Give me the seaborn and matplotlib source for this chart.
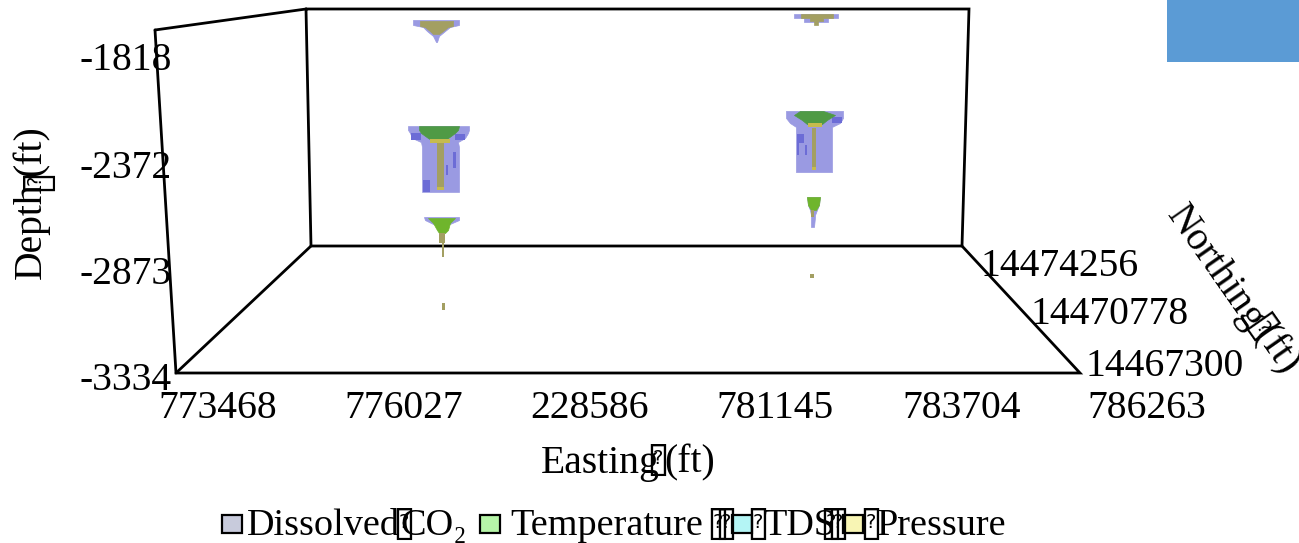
import matplotlib
matplotlib.use("Agg")
import matplotlib.pyplot as plt
from matplotlib.patches import Rectangle
import seaborn as sns

# Axis tick labels as printed on the chart
easting_ticks = ["773468", "776027", "228586", "781145", "783704", "786263"]
northing_ticks = ["14474256", "14470778", "14467300"]
depth_ticks = ["-1818", "-2372", "-2873", "-3334"]

# Back wall range of the box
easting_range = (773468, 786263)
depth_range = (-3334, -1690)

BLUE = "#9a9ae2"
DARK = "#6c6cd6"
GREEN = "#4f9a45"
LIME = "#6fb52c"
OLIVE = "#a39f62"
YELLOW = "#c6bb4e"

# Each shape: depth, west edge, east edge (ft)
# well 1, upper zone
w1a_depth = [-1766, -1801, -1815, -1843, -1877, -1919]
w1a_west = [775473, 775473, 775669, 775748, 775866, 775925]
w1a_east = [776377, 776377, 776200, 776102, 775984, 775945]
w1a_core_depth = [-1773, -1808, -1815, -1843, -1863]
w1a_core_west = [775610, 775610, 775708, 775806, 775866]
w1a_core_east = [776259, 776259, 776161, 776062, 775984]

# well 1, middle zone
w1b_depth = [-2502, -2529, -2550, -2585, -2613, -2647, -2959]
w1b_west = [775374, 775374, 775414, 775454, 775630, 775650, 775650]
w1b_east = [776573, 776573, 776554, 776495, 776357, 776377, 776377]
w1b_core_depth = [-2502, -2529, -2550, -2585, -2613]
w1b_core_west = [775591, 775591, 775630, 775768, 775905]
w1b_core_east = [776377, 776357, 776298, 776161, 776062]

# well 1, lower zone
w1c_depth = [-3133, -3154, -3181]
w1c_west = [775689, 775708, 775866]
w1c_east = [776377, 776377, 776200]
w1c_core_depth = [-3140, -3174, -3223, -3244]
w1c_core_west = [775768, 775866, 775944, 775984]
w1c_core_east = [776298, 776200, 776161, 776102]

# well 2, upper zone
w2a_depth = [-1725, -1752, -1752, -1780]
w2a_west = [782961, 782961, 783157, 783157]
w2a_east = [783826, 783826, 783629, 783629]
w2a_core_depth = [-1725, -1752, -1752, -1773, -1773, -1801]
w2a_core_west = [783098, 783098, 783275, 783275, 783354, 783354]
w2a_core_east = [783727, 783727, 783531, 783531, 783433, 783433]

# well 2, middle zone
w2b_depth = [-2397, -2446, -2481, -2508, -2522, -2821]
w2b_west = [782804, 782804, 782882, 783000, 783000, 783000]
w2b_east = [783924, 783924, 783865, 783708, 783708, 783708]
w2b_core_depth = [-2397, -2425, -2460, -2488]
w2b_core_west = [783079, 782961, 783118, 783216]
w2b_core_east = [783531, 783767, 783609, 783511]

# well 2, lower zone
w2c_depth = [-2994, -3050, -3084, -3119, -3133, -3202]
w2c_west = [783216, 783236, 783275, 783295, 783295, 783295]
w2c_east = [783472, 783452, 783413, 783374, 783374, 783354]
w2c_core_depth = [-2994, -3050, -3084]
w2c_core_west = [783216, 783236, 783295]
w2c_core_east = [783472, 783452, 783393]

# Blocks: west, east, top depth, bottom depth, colour
stem_blocks = [
    (775944, 776082, -2619, -2946, OLIVE),
    (775807, 776200, -2592, -2620, YELLOW),
    (775944, 776082, -2925, -2946, YELLOW),
    (775984, 776102, -3244, -3313, OLIVE),
    (776043, 776082, -3313, -3410, OLIVE),
    (776043, 776102, -3729, -3778, OLIVE),
    (783315, 783393, -2515, -2807, OLIVE),
    (783236, 783511, -2481, -2508, YELLOW),
    (783315, 783393, -2786, -2807, YELLOW),
    (783295, 783354, -3084, -3133, OLIVE),
    (783275, 783354, -3528, -3556, OLIVE),
]
dark_blocks = [
    (776260, 776320, -2682, -2793, DARK),
    (776120, 776161, -2772, -2842, DARK),
    (775670, 775808, -2876, -2959, DARK),
    (775434, 775630, -2550, -2600, DARK),
    (776298, 776495, -2560, -2600, DARK),
    (783020, 783157, -2557, -2619, DARK),
    (783020, 783059, -2619, -2703, DARK),
    (783177, 783216, -2633, -2703, DARK),
    (783708, 783904, -2439, -2481, DARK),
]

sns.set_theme(style="white")
plt.rcParams["font.family"] = ["Liberation Serif", "DejaVu Sans"]
plt.rcParams["text.color"] = "black"

W, H = 1299, 543
fig = plt.figure(figsize=(W / 100, H / 100), dpi=100)

# Page layer in pixels for the box frame and the labels
page = fig.add_axes([0, 0, 1, 1])
page.set_xlim(0, W)
page.set_ylim(H, 0)
page.axis("off")

# Data layer sits over the back wall of the box
left, right, top, bottom = 311, 962, 9, 246
ax = fig.add_axes([left / W, 1 - bottom / H, (right - left) / W, (bottom - top) / H])
ax.set_xlim(*easting_range)
ax.set_ylim(*depth_range)
ax.axis("off")
ax.patch.set_alpha(0)

outer = [
    (w1a_depth, w1a_west, w1a_east),
    (w1b_depth, w1b_west, w1b_east),
    (w1c_depth, w1c_west, w1c_east),
    (w2a_depth, w2a_west, w2a_east),
    (w2b_depth, w2b_west, w2b_east),
    (w2c_depth, w2c_west, w2c_east),
]
core = [
    (w1a_core_depth, w1a_core_west, w1a_core_east, OLIVE),
    (w1b_core_depth, w1b_core_west, w1b_core_east, GREEN),
    (w1c_core_depth, w1c_core_west, w1c_core_east, LIME),
    (w2a_core_depth, w2a_core_west, w2a_core_east, OLIVE),
    (w2b_core_depth, w2b_core_west, w2b_core_east, GREEN),
    (w2c_core_depth, w2c_core_west, w2c_core_east, LIME),
]
for d, w, e in outer:
    ax.fill_betweenx(d, w, e, color=BLUE, lw=0.5, clip_on=False)
for west, east, d0, d1, col in dark_blocks:
    ax.fill_betweenx([d0, d1], west, east, color=col, lw=0, clip_on=False)
for d, w, e, col in core:
    ax.fill_betweenx(d, w, e, color=col, lw=0.5, clip_on=False)
for west, east, d0, d1, col in stem_blocks:
    ax.fill_betweenx([d0, d1], west, east, color=col, lw=0, clip_on=False)

# Box frame
frame = [
    [(306, 9), (969, 9), (962, 246), (311, 246), (306, 9)],
    [(155, 30), (306, 9)],
    [(155, 30), (176, 373), (1080, 373), (962, 246)],
    [(176, 373), (311, 246)],
]
for seg in frame:
    page.plot([p[0] for p in seg], [p[1] for p in seg], color="black", lw=2.0,
              solid_joinstyle="miter", zorder=3)

# Blue corner block of the slide
page.add_patch(Rectangle((1167, 0), 132, 62, color="#5b9bd5", lw=0))


def tofu(x, y, rot=0):
    # the box with a question mark the original shows for its lost spaces
    page.text(x, y, "\u25af", fontsize=30, family="DejaVu Sans", ha="center", va="center",
              rotation=rot, zorder=6)
    page.text(x, y, "?", fontsize=14, family="DejaVu Sans", ha="center", va="center",
              rotation=rot, zorder=6)


FS = 28.5
for lab, x in zip(easting_ticks, [218, 404, 590, 775, 962, 1147]):
    page.text(x, 409, lab, fontsize=FS, ha="center", va="center", zorder=4)
for lab, x, y in zip(northing_ticks, [1060, 1110, 1165], [266, 314, 367]):
    page.text(x, y, lab, fontsize=FS, ha="center", va="center", zorder=4)
for lab, y in zip(depth_ticks, [61, 169, 274, 381]):
    page.text(126, y, lab, fontsize=FS, ha="center", va="center", zorder=4)

# Axis titles, split where the lost space falls
page.text(600, 463, "Easting", fontsize=FS, ha="center", va="center")
page.text(690, 463, "(ft)", fontsize=FS, ha="center", va="center")
tofu(658, 459)

page.text(31, 231, "Depth", fontsize=FS, ha="center", va="center", rotation=90)
page.text(31, 151, "(ft)", fontsize=FS, ha="center", va="center", rotation=90)
tofu(35, 180, 90)

page.text(1215, 268, "Northing", fontsize=FS, ha="center", va="center", rotation=-55,
          rotation_mode="anchor")
page.text(1276, 350, "(ft)", fontsize=FS, ha="center", va="center", rotation=-55,
          rotation_mode="anchor")
tofu(1262, 328, -55)

# Legend, swatches and names
legend_names = ["Dissolved", "CO\u2082", "Temperature", "TDS", "Pressure"]
legend_text_x = [247, 400, 510, 763, 877]
legend_colors = ["#c8cbdc", "#b6f5a8", "#b4f5f5", "#f8f5b4"]
legend_swatch_x = [222, 480, 732, 843]
legend_tofu_x = [404, 718, 726, 758, 831, 838, 871]
for name, tx in zip(legend_names, legend_text_x):
    page.text(tx, 526, name, fontsize=27.5, ha="left", va="center")
for col, sx in zip(legend_colors, legend_swatch_x):
    page.add_patch(Rectangle((sx, 515), 20, 18, facecolor=col, edgecolor="black", lw=1.6, zorder=5))
for tx in legend_tofu_x:
    tofu(tx, 523)

fig.savefig("out.png", dpi=100)
